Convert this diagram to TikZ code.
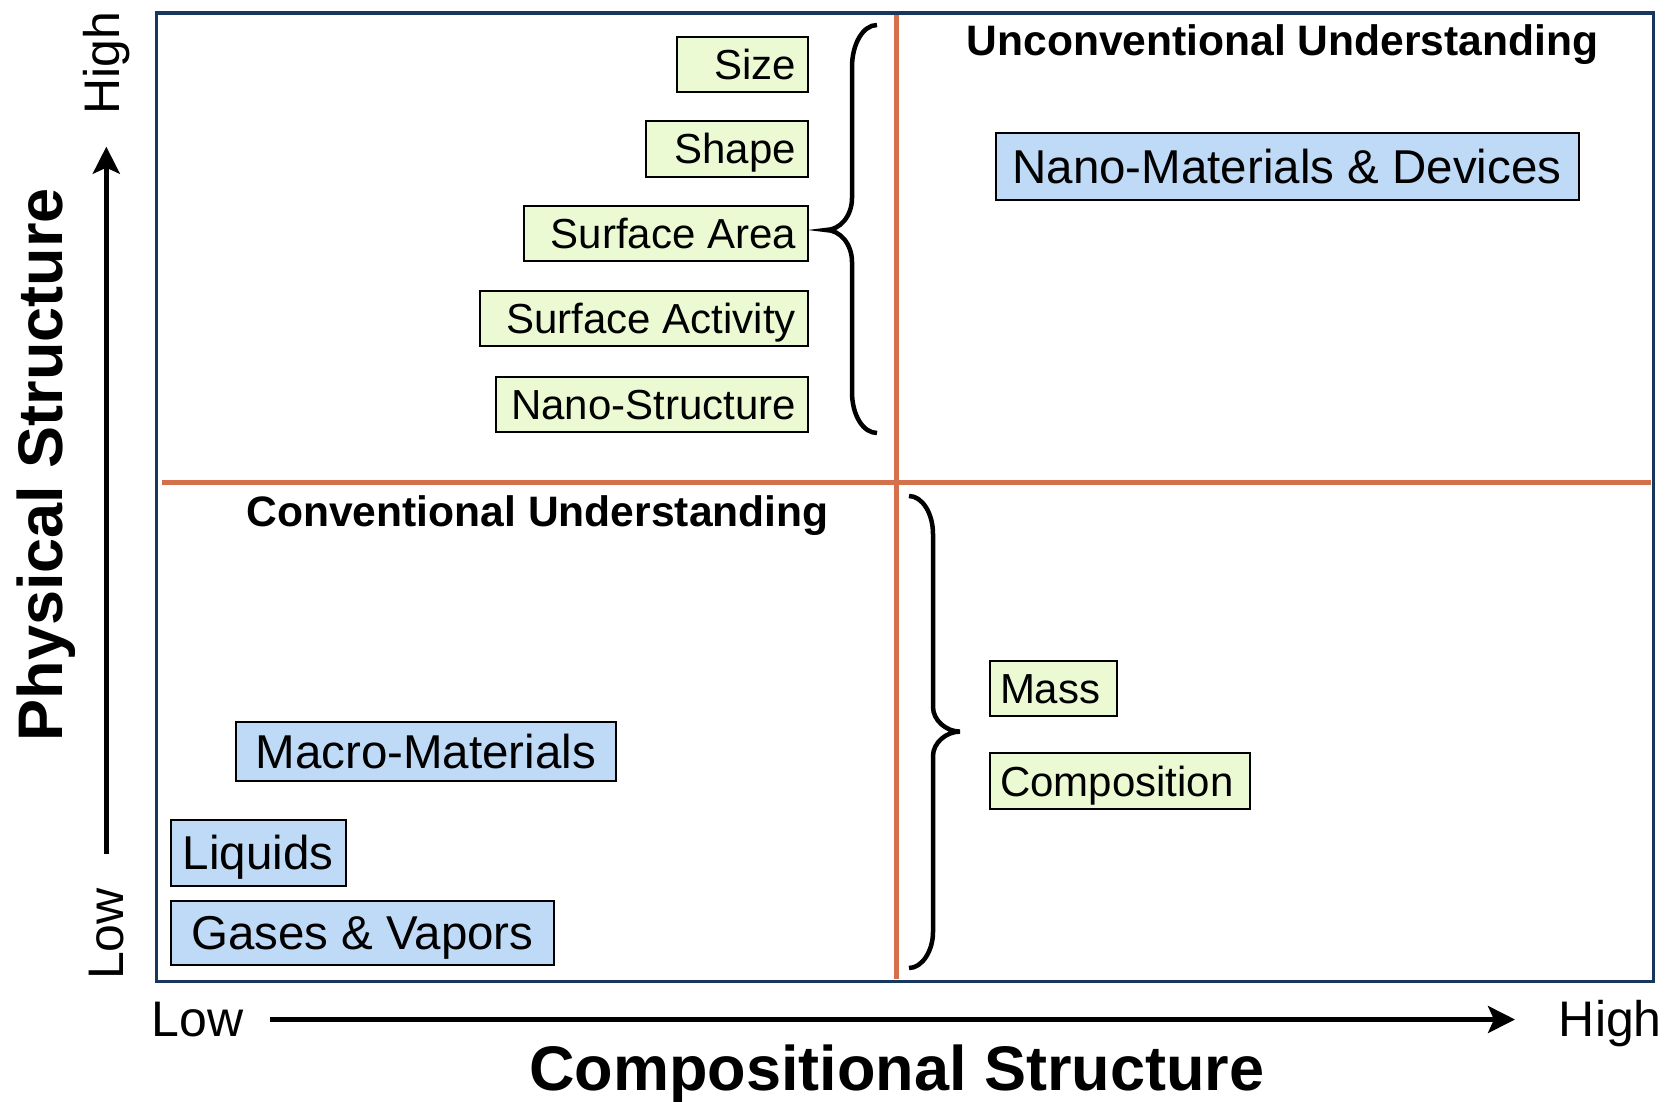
\documentclass[tikz,border=0pt]{standalone}
\usepackage{fontspec}
\setmainfont{Liberation Sans}
\usetikzlibrary{arrows.meta}
\definecolor{framenavy}{RGB}{23,55,94}
\definecolor{quadorange}{RGB}{212,112,76}
\definecolor{propgreen}{RGB}{236,250,212}
\definecolor{matblue}{RGB}{190,218,246}
% fixed-width label text, flushed right or left inside its box
\newcommand{\flushrtext}[2]{\makebox[#1][r]{#2}}
\newcommand{\flushltext}[2]{\makebox[#1][l]{#2}}
\begin{document}
\begin{tikzpicture}[x=1pt,y=-1pt,
  gbox/.style={draw=black, line width=2pt, fill=propgreen, inner xsep=12pt, inner ysep=0pt,
    font=\fontsize{42}{48}\selectfont, text height=34pt, text depth=4pt, minimum height=55.5pt},
  bbox/.style={draw=black, line width=2pt, fill=matblue, inner sep=0pt,
    font=\fontsize{47.5}{54}\selectfont, text height=36pt, text depth=2pt},
  quadtitle/.style={inner sep=0pt, font=\bfseries\fontsize{42.6}{50}\selectfont},
  axislbl/.style={inner sep=0pt, font=\fontsize{50}{56}\selectfont},
  axistitle/.style={inner sep=0pt, font=\bfseries\fontsize{63}{70}\selectfont},
  axisarrow/.style={line width=4.5pt, -{Stealth[length=27pt,width=27pt,inset=6pt]}},
  divider/.style={quadorange, line width=5pt},
  bracepath/.style={line width=4.5pt}]

\useasboundingbox (0,0) rectangle (1671,1101);

% quadrant dividers
\coordinate (vtop) at (896.5,13);
\coordinate (vbot) at (896.5,979);
\coordinate (hleft) at (162,482.8);
\coordinate (hright) at (1651,482.8);
\draw[divider] (vtop) -- (vbot);
\draw[divider] (hleft) -- (hright);

% outer frame
\draw[framenavy, line width=3.5pt] (156.5,12.8) rectangle (1653.5,981.5);

% quadrant titles
\node[quadtitle, anchor=base] (uncon) at (1282.5,55) {Unconventional Understanding};
\node[quadtitle, anchor=base] (conv) at (537.6,526) {Conventional Understanding};

% physical properties (upper left)
\node[gbox, anchor=east] (size)  at (809,64.5)  {\flushrtext{107pt}{Size}};
\node[gbox, anchor=east] (shape) at (809,148.8) {\flushrtext{138pt}{Shape}};
\node[gbox, anchor=east] (sarea) at (809,233.3) {\flushrtext{260pt}{Surface Area}};
\node[gbox, anchor=east] (sact)  at (809,318.4) {\flushrtext{304pt}{Surface Activity}};
\node[gbox, anchor=east] (nstr)  at (809,404.3) {\flushrtext{288pt}{Nano-Structure}};

% compositional properties (lower right)
\node[gbox, inner xsep=10pt, anchor=west] (mass) at (989,688.4) {\flushltext{107pt}{Mass}};
\node[gbox, inner xsep=10pt, anchor=west] (comp) at (989,781) {\flushltext{240pt}{Composition}};

% material classes
\node[bbox, minimum width=583pt, minimum height=67pt] (nanomat) at (1287,166.5) {Nano-Materials \& Devices};
\node[bbox, minimum width=380.5pt, minimum height=59.5pt] (macro) at (425.75,751.25) {Macro-Materials};
\node[bbox, minimum width=175.5pt, minimum height=66.5pt] (liquids) at (258.25,852.75) {Liquids};
\node[bbox, minimum width=383.5pt, minimum height=64.5pt] (gases) at (362.25,932.75) {Gases \& Vapors};

% left brace grouping the physical properties
\draw[bracepath] (877,25) .. controls (863,25) and (852,44) .. (852,67)
  -- (852,198) .. controls (852,216) and (840,230) .. (826,230)
  .. controls (840,230) and (852,244) .. (852,262)
  -- (852,392) .. controls (852,415) and (863,433) .. (877,433);

% right brace grouping the compositional properties
\draw[bracepath] (909,496) .. controls (922,496) and (933,513) .. (933,534)
  -- (933,707) .. controls (933,720) and (946,731.6) .. (960,731.6)
  .. controls (946,731.6) and (933,743) .. (933,756)
  -- (933,932) .. controls (933,951) and (922,968) .. (909,968);

% axes
\coordinate (xstart) at (269.8,1019.5);
\coordinate (xend) at (1515,1019.5);
\coordinate (ystart) at (106.3,853.5);
\coordinate (yend) at (106.3,146.7);
\draw[axisarrow] (xstart) -- (xend);
\draw[axisarrow] (ystart) -- (yend);

\node[axislbl, anchor=base west] (xlow) at (151.5,1036) {Low};
\node[axislbl, anchor=base east] (xhigh) at (1662,1036) {High};
\node[axislbl, rotate=90] (ylow) at (107,934) {Low};
\node[axislbl, rotate=90] (yhigh) at (107,63) {High};

\node[axistitle, anchor=base] (xtitle) at (896.7,1090) {Compositional Structure};
\node[axistitle, rotate=90, anchor=base] (ytitle) at (62,464.6) {Physical Structure};
\end{tikzpicture}
\end{document}
